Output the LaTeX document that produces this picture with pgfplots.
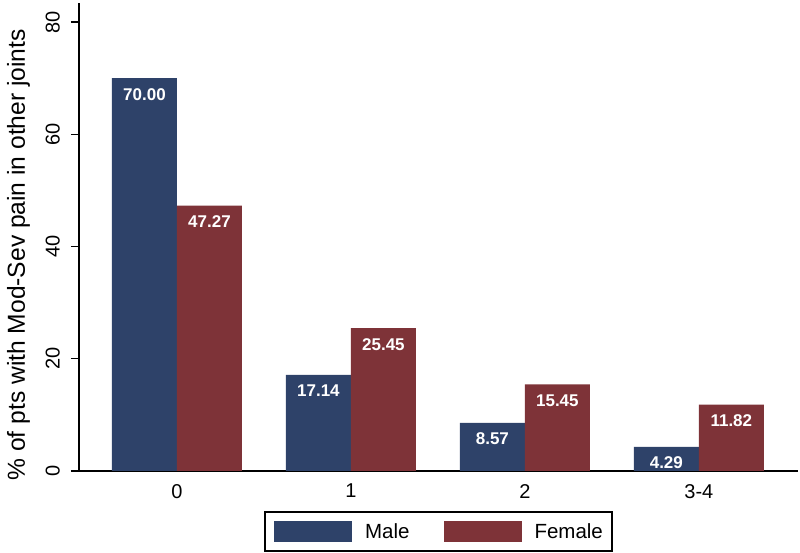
\documentclass[border=0pt]{standalone}
\usepackage{fontspec}
\setmainfont{Liberation Sans}
\usepackage{pgfplots}
\pgfplotsset{compat=1.18}
\definecolor{male}{RGB}{46,66,105}
\definecolor{female}{RGB}{126,51,56}
\begin{document}
\begin{tikzpicture}
\begin{axis}[
  at={(0pt,0pt)}, anchor=south west,
  scale only axis, width=719pt, height=468pt,
  xmin=-0.563, xmax=3.57, ymin=0, ymax=83.4,
  axis x line*=bottom, axis y line*=left,
  axis line style={line width=1.6pt, black, -},
  ybar=0pt, bar width=65pt,
  xtick={0,1,2,3}, xticklabels={0,1,2,3-4},
  ytick={0,20,40,60,80},
  tick align=outside, major tick length=8pt,
  major x tick style={draw=none},
  y tick style={line width=1.3pt, black},
  /pgf/number format/assume math mode=true,
  tick label style={font=\fontsize{20}{22}\selectfont},
  yticklabel style={rotate=90, anchor=south, inner sep=0pt},
  yticklabel shift=11pt,
  xticklabel style={anchor=north, inner sep=0pt},
  xticklabel shift=5pt,
  ylabel={\% of pts with Mod-Sev pain in other joints},
  ylabel style={font=\fontsize{24.6}{28}\selectfont, at={(axis description cs:-0.0751,0.462)}, anchor=base, rotate=0},
  nodes near coords={\pgfmathprintnumber[fixed, fixed zerofill, precision=2]{\pgfplotspointmeta}},
  every node near coord/.append style={anchor=north, inner sep=0pt, yshift=-10pt, font=\bfseries\fontsize{17}{19}\selectfont, text=white},
  legend style={at={(axis description cs:0.5,-0.0855)}, anchor=north, draw=black, line width=1.5pt,
    legend columns=2, font=\fontsize{20.5}{23}\selectfont, inner xsep=9pt, inner ysep=9pt,
    nodes={inner sep=0pt, text depth=0pt},
    /tikz/every odd column/.append style={column sep=13pt},
    /tikz/every even column/.append style={column sep=34pt}},
  legend cell align=left,
  legend image code/.code={\fill[#1] (0pt,-10.5pt) rectangle (78pt,10.5pt);},
]
\addplot[fill=male, draw=none] coordinates {(0,70.00) (1,17.14) (2,8.57) (3,4.29)};
\addplot[fill=female, draw=none] coordinates {(0,47.27) (1,25.45) (2,15.45) (3,11.82)};
\legend{Male, Female}
\end{axis}
\pgfresetboundingbox
\path (-79pt,-82pt) rectangle (721pt,471pt);
\end{tikzpicture}
\end{document}
